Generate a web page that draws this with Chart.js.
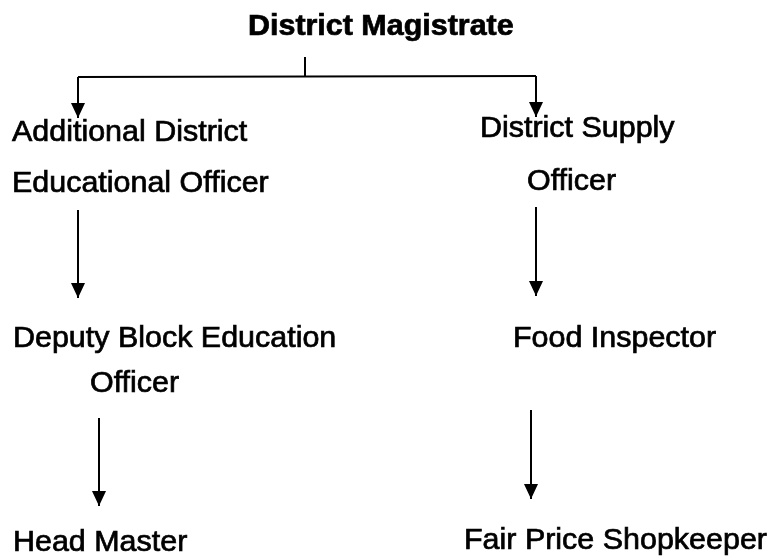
<!DOCTYPE html>
<html>
<head>
<meta charset="utf-8">
<script src="https://cdn.jsdelivr.net/npm/chart.js@4.4.0/dist/chart.umd.min.js"></script>
<style>
    html, body { margin: 0; padding: 0; background: #fff; }
    #wrap { width: 772px; height: 557px; }
</style>
</head>
<body>
<div id="wrap"><canvas id="org-chart" width="772" height="557"></canvas></div>
<script>
(function () {
    "use strict";

    // Posts in the chart (text, left edge, baseline)
    var nodeLabels = [
        "District Magistrate",
        "Additional District", "Educational Officer",
        "District Supply", "Officer",
        "Deputy Block Education", "Officer",
        "Food Inspector",
        "Head Master",
        "Fair Price Shopkeeper"
    ];
    var nodeX = [248, 12, 12, 480, 527, 13, 90, 513, 13, 464];
    var nodeY = [35, 141, 192, 137, 190, 347, 392, 347, 551, 549];

    // Connectors (start and end point, arrow at the end or not)
    var linkX1 = [305, 78, 78, 536, 78, 536, 99, 531];
    var linkY1 = [57, 77, 77, 76, 210, 207, 418, 410];
    var linkX2 = [305, 536, 78, 536, 78, 536, 99, 531];
    var linkY2 = [77, 76, 118, 117, 298, 296, 506, 499];
    var linkArrow = [false, false, true, true, true, true, true, true];


    // Datasets for the connectors
    var datasets = [];
    linkX1.forEach(function (x, i) {
        datasets.push({
            type: "line",
            data: [{x: x, y: linkY1[i]}, {x: linkX2[i], y: linkY2[i]}],
            borderColor: "#000",
            borderWidth: 2,
            pointRadius: 0,
            fill: false,
            arrow: linkArrow[i]
        });
    });

    // Dataset for the text points
    datasets.push({
        type: "scatter",
        data: nodeX.map(function (x, i) { return {x: x, y: nodeY[i]}; }),
        pointRadius: 0,
        texts: nodeLabels
    });


    // Draws arrow heads and texts
    var orgDraw = {
        id: "orgDraw",
        afterDatasetsDraw: function (chart) {
            var ctx = chart.ctx;
            ctx.save();
            ctx.fillStyle = "#000";
            ctx.strokeStyle = "#000";
            chart.data.datasets.forEach(function (ds, i) {
                var meta = chart.getDatasetMeta(i);
                if (ds.arrow) {
                    var p = meta.data[meta.data.length - 1];
                    ctx.beginPath();
                    ctx.moveTo(p.x, p.y);
                    ctx.lineTo(p.x - 7, p.y - 15);
                    ctx.lineTo(p.x + 7, p.y - 15);
                    ctx.closePath();
                    ctx.fill();
                }
                if (ds.texts) {
                    ctx.textAlign = "left";
                    ctx.textBaseline = "alphabetic";
                    meta.data.forEach(function (pt, j) {
                        // scanned type is a bit wider and heavier than Arial
                        ctx.save();
                        ctx.translate(pt.x, pt.y);
                        ctx.scale(1.05, 1);
                        ctx.font = (j === 0 ? "bold " : "") + "29px 'Liberation Sans', Arial, sans-serif";
                        ctx.lineWidth = 0.7;
                        ctx.fillText(ds.texts[j], 0, 0);
                        ctx.strokeText(ds.texts[j], 0, 0);
                        ctx.restore();
                    });
                }
            });
            ctx.restore();
        }
    };


    var ctx = document.getElementById("org-chart").getContext("2d");
    var myChart = new Chart(ctx, {
        type: "scatter",
        data: { datasets: datasets },
        options: {
            responsive: false,
            animation: false,
            layout: { padding: 0 },
            plugins: {
                legend: { display: false },
                tooltip: { enabled: false }
            },
            scales: {
                x: { type: "linear", min: 0, max: 772, display: false },
                y: { type: "linear", min: 0, max: 557, reverse: true, display: false }
            }
        },
        plugins: [orgDraw]
    });

})();
</script>
</body>
</html>
